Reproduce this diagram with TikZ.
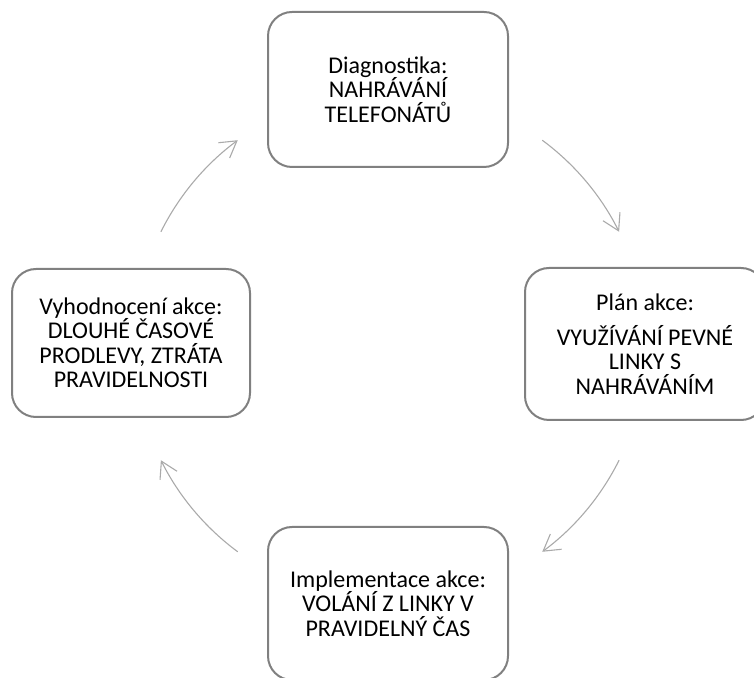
\documentclass[tikz,border=0pt]{standalone}
\usepackage{fontspec}
\setmainfont{Carlito}
\usetikzlibrary{arrows.meta,calc}
\definecolor{boxline}{RGB}{128,128,128}
\definecolor{arrline}{RGB}{170,170,170}
\tikzset{
  cyclebox/.style={draw=boxline, line width=2pt, rounded corners=24pt, align=center,
    font=\fontsize{24pt}{24.5pt}\selectfont, inner sep=0pt, minimum width=240pt},
  cyclearrow/.style={draw=arrline, line width=1.1pt, -{Straight Barb[length=16pt,width=19pt]}}
}
\begin{document}
\begin{tikzpicture}[x=1pt,y=1pt]
\useasboundingbox (0,0) rectangle (754,677);
\clip (0,0) rectangle (754,677);
\coordinate (ctr) at (390,331);
\node[cyclebox, minimum height=155pt] (diag) at (388,587.5)
  {Diagnostika:\\NAHRÁVÁNÍ\\TELEFONÁTŮ};
\node[cyclebox, minimum height=152pt] (plan) at (645,333)
  {Plán akce:\\[10pt]VYUŽÍVÁNÍ PEVNÉ\\LINKY S\\NAHRÁVÁNÍM};
\node[cyclebox, minimum height=153pt] (impl) at (388,73.5)
  {Implementace akce:\\VOLÁNÍ Z LINKY V\\PRAVIDELNÝ ČAS};
\node[cyclebox, minimum width=238pt, minimum height=148pt] (eval) at (131,334)
  {Vyhodnocení akce:\\DLOUHÉ ČASOVÉ\\PRODLEVY, ZTRÁTA\\PRAVIDELNOSTI};
\coordinate (a1) at ($(ctr)+(53.5:256)$);
\coordinate (a2) at ($(ctr)+(-26.5:256)$);
\coordinate (a3) at ($(ctr)+(233.5:256)$);
\coordinate (a4) at ($(ctr)+(153.5:256)$);
\draw[cyclearrow] (a1) arc[start angle=53.5, end angle=26.5, radius=256pt];
\draw[cyclearrow] (a2) arc[start angle=-26.5, end angle=-53.5, radius=256pt];
\draw[cyclearrow] (a3) arc[start angle=233.5, end angle=206.5, radius=256pt];
\draw[cyclearrow] (a4) arc[start angle=153.5, end angle=126.5, radius=256pt];
\end{tikzpicture}
\end{document}
